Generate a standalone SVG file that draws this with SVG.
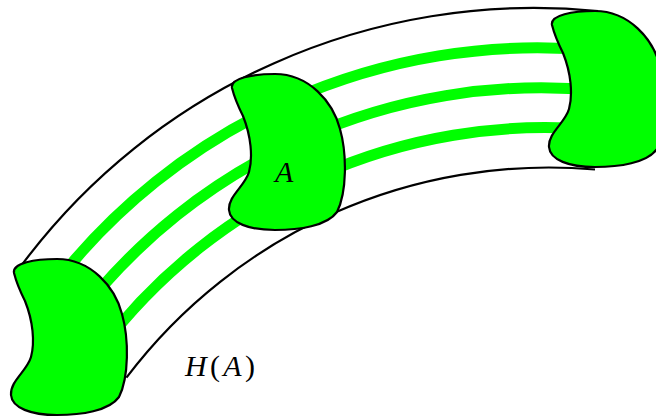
<svg xmlns="http://www.w3.org/2000/svg" xmlns:xlink="http://www.w3.org/1999/xlink" width="656" height="417" viewBox="0 0 656 417">
  <style>
    .edge { fill: none; stroke: #000; stroke-width: 2.2; }
    .stripe { fill: none; stroke: #00ff00; stroke-width: 11; }
    .blob { fill: #00ff00; stroke: #000; stroke-width: 2.2; stroke-linejoin: round; }
    .lbl { font-family: "Liberation Serif", "Times New Roman", serif; font-size: 30px; fill: #000; }
    .it { font-style: italic; }
  </style>
  <defs>
    <path id="bean" class="blob" d="M 3,14 C 1,4 24,0 46,0 C 80,0 104,28 111,55 C 118,80 118,118 108,138 C 98,152 70,156 46,156 C 20,156 1,149 0,136 C -1,122 16,112 20,98 C 24,83 22,62 14,42 C 8,30 5,22 3,14 Z"/>
  </defs>
  <rect width="656" height="417" fill="#fff"/>
  <g id="connectors">
    <path class="edge" d="M 18.7,269.1 C 152.6,86.5 372.8,-11.5 598.1,11.2"/>
    <path class="edge" d="M 126.4,377.6 C 236.4,232.2 413.4,153.7 595,169.5"/>
    <path class="stripe" d="M 45.6,296.2 C 173.6,122.9 383,29.8 597.3,50.8"/>
    <path class="stripe" d="M 72.55,323.35 C 194.5,159.35 393.1,71.1 596.55,90.35"/>
    <path class="stripe" d="M 99.5,350.5 C 215.5,195.8 403.3,112.4 595.8,129.9"/>
  </g>
  <g id="blob-left">
    <use xlink:href="#bean" href="#bean" transform="translate(11,259)"/>
  </g>
  <g id="blob-A">
    <use xlink:href="#bean" href="#bean" transform="translate(229,74)"/>
    <text class="lbl it" x="275" y="182">A</text>
  </g>
  <g id="blob-right">
    <use xlink:href="#bean" href="#bean" transform="translate(549,11)"/>
  </g>
  <g id="label-HA">
    <text class="lbl" x="185" y="376" textLength="70" lengthAdjust="spacing"><tspan class="it">H</tspan>(<tspan class="it">A</tspan>)</text>
  </g>
</svg>
